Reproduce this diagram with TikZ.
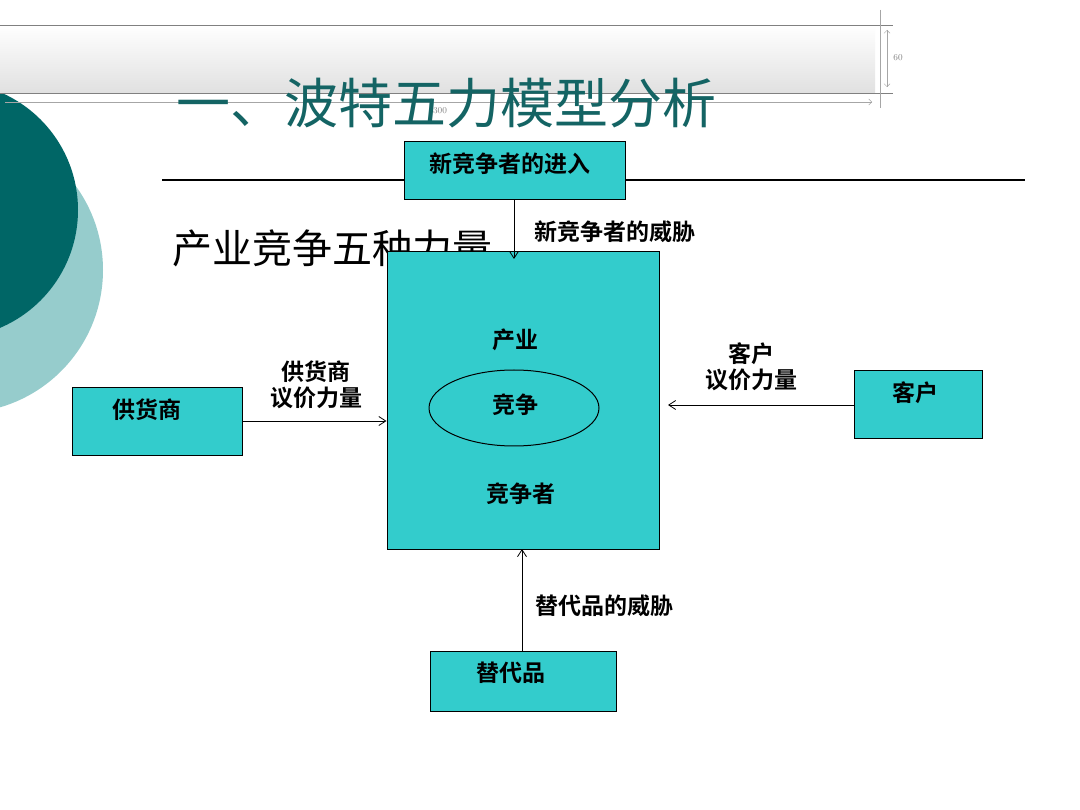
\documentclass[tikz,border=0pt]{standalone}
\usepackage{fontspec}
\newfontfamily\cjk{Noto Sans CJK SC}
\newfontfamily\cjkb{Noto Sans CJK SC Bold}
\usetikzlibrary{arrows.meta}
\definecolor{teal1}{RGB}{51,204,204}
\definecolor{dteal}{RGB}{0,102,102}
\definecolor{lteal}{RGB}{150,204,204}
\definecolor{ttl}{RGB}{20,100,100}
\tikzset{
 box/.style={draw=black,fill=teal1,line width=1pt,inner sep=0pt},
 lbl/.style={font=\cjkb\fontsize{23}{26}\selectfont,align=center,inner sep=0pt},
 arr/.style={-{Straight Barb[length=7pt,width=9pt]},line width=0.8pt},
}
\begin{document}
\begin{tikzpicture}[x=1pt,y=-1pt]
\useasboundingbox (0,0) rectangle (1080,810);
\fill[white] (0,0) rectangle (1080,810);
\begin{scope}
\clip (0,0) rectangle (1080,810);
\fill[lteal] (-40,270) circle (143);
\fill[dteal] (-50,210) circle (128);
\end{scope}
\shade[top color=white,bottom color=black!12] (0,25) rectangle (875,93);
\draw[gray,line width=0.8pt] (0,25) -- (893,25) (0,93) -- (893,93);
\draw[gray!70,-{Straight Barb[length=3pt]}] (5,102) -- (872,102);
\draw[gray!70] (880,10) -- (880,108);
\draw[gray!70,{Straight Barb[length=3pt]}-{Straight Barb[length=3pt]}] (887,30) -- (887,87);
\node[gray,font=\fontsize{9}{10}\selectfont] (d60) at (898,58) {60};
\node[ttl,font=\cjk\fontsize{54}{60}\selectfont,anchor=west,inner sep=0pt] (title) at (176,103) {一、波特五力模型分析};
\node[gray,font=\fontsize{9}{10}\selectfont] (d300) at (440,111) {300};
\draw[line width=1.6pt] (162,180) -- (1025,180);
\node[font=\cjk\fontsize{40}{44}\selectfont,anchor=west,inner sep=0pt] (sub) at (172,248) {产业竞争五种力量};
% boxes
\node[box,minimum width=221pt,minimum height=58pt] (new) at (514.5,171) {};
\node[lbl] at (510,164) {新竞争者的进入};
\node[box,minimum width=272pt,minimum height=297pt] (ind) at (523,400.5) {};
\node[box,minimum width=170pt,minimum height=68pt] (sup) at (157,422) {};
\node[lbl] at (147,410) {供货商};
\node[box,minimum width=128pt,minimum height=68pt] (cus) at (918,405) {};
\node[lbl] at (915,393) {客户};
\node[box,minimum width=186pt,minimum height=60pt] (sub2) at (523,681) {};
\node[lbl] at (511,673) {替代品};
\draw[line width=1pt] (514,408) ellipse (85 and 38);
\node[lbl] (a) at (515,340) {产业};
\node[lbl] (b) at (515,405) {竞争};
\node[lbl] (c) at (521,494) {竞争者};
% arrows
\draw[arr] (514,200) -- (514,259);
\node[lbl,anchor=west] at (534,232) {新竞争者的威胁};
\draw[arr] (sup.east |- 0,421) -- (ind.west |- 0,421);
\node[lbl] at (316,385) {供货商\\议价力量};
\draw[arr] (cus.west |- 0,405) -- (668,405);
\node[lbl] at (751,367) {客户\\议价力量};
\draw[arr] (522,651) -- (522,549);
\node[lbl,anchor=west] at (535,606) {替代品的威胁};
\end{tikzpicture}
\end{document}
